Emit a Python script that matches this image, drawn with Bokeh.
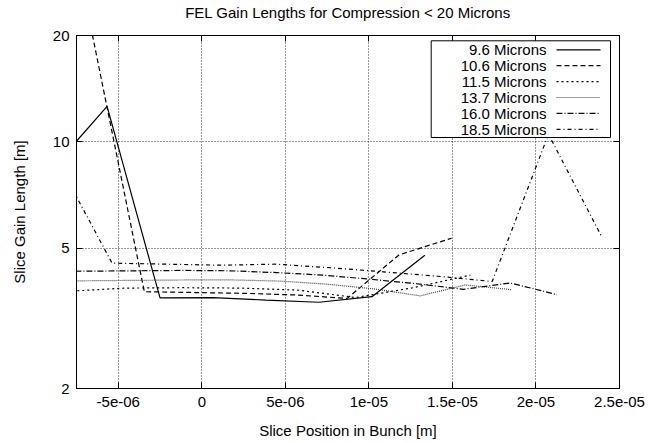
import math
from bokeh.plotting import figure
from bokeh.models import Range1d, FixedTicker, LinearAxis, LogAxis, Label, Arrow, BoxAnnotation
from bokeh.embed import file_html
from bokeh.resources import INLINE

# ---------------- data ----------------
x_96 = [-8.84e-6, -5.67e-6, -2.50e-6, 0.67e-6, 3.84e-6, 7.01e-6, 10.18e-6, 13.35e-6]
g_96 = [8.5, 12.6, 3.61, 3.62, 3.56, 3.51, 3.64, 4.77]

x_106 = [-6.55e-6, -3.44e-6, -0.39e-6, 2.64e-6, 5.67e-6, 8.70e-6, 11.8e-6, 14.95e-6]
g_106 = [20.1, 3.76, 3.74, 3.72, 3.68, 3.60, 4.78, 5.33]

x_115 = [-8.05e-6, -4.6e-6, -1.15e-6, 2.3e-6, 5.75e-6, 9.2e-6, 12.65e-6, 16.07e-6]
g_115 = [3.77, 3.85, 3.86, 3.85, 3.80, 3.62, 3.86, 4.19]

x_137 = [-9.3e-6, -6.5e-6, -3.7e-6, -0.9e-6, 1.9e-6, 4.7e-6, 7.5e-6, 10.3e-6, 13.07e-6, 15.77e-6, 18.57e-6]
g_137 = [4.03, 4.04, 4.05, 4.06, 4.06, 4.03, 3.95, 3.83, 3.66, 3.93, 3.81]

x_160 = [-9.54e-6, -6.74e-6, -3.94e-6, -1.14e-6, 1.66e-6, 4.46e-6, 7.26e-6, 10.06e-6, 12.86e-6, 15.66e-6, 18.46e-6, 21.26e-6]
g_160 = [4.29, 4.30, 4.31, 4.32, 4.31, 4.26, 4.19, 4.08, 3.96, 3.82, 3.98, 3.69]

x_185 = [-8.62e-6, -5.37e-6, -2.12e-6, 1.13e-6, 4.38e-6, 7.63e-6, 10.88e-6, 14.13e-6, 17.38e-6, 20.75e-6, 23.9e-6]
g_185 = [8.77, 4.53, 4.50, 4.47, 4.50, 4.40, 4.28, 4.16, 4.02, 10.5, 5.42]

series_labels = ["9.6 Microns", "10.6 Microns", "11.5 Microns", "13.7 Microns", "16.0 Microns", "18.5 Microns"]

x_ticks = [-5e-06, 0.0, 5e-06, 1e-05, 1.5e-05, 2e-05, 2.5e-05]
x_tick_labels = ["-5e-06", "0", "5e-06", "1e-05", "1.5e-05", "2e-05", "2.5e-05"]
y_ticks = [2, 5, 10, 20]
y_tick_labels = ["2", "5", "10", "20"]

title_text = "FEL Gain Lengths for Compression < 20 Microns"

# ---------------- styling ----------------
FONT = "Liberation Sans"
FS = "15px"
X0, X1 = -7.5e-6, 2.5e-5
Y0, Y1 = 2, 20
FL, FT, FW, FH = 76, 34.7, 543, 353

dashes = ["solid", "5 3", "2 3", "1 1", "6 2 1 2", "4 3 1 3"]
colors = ["black", "black", "black", "#444444", "black", "black"]

p = figure(width=662, height=443, x_range=Range1d(X0, X1), y_range=Range1d(Y0, Y1),
           y_axis_type="log", output_backend="svg", toolbar_location=None,
           min_border_left=FL, min_border_right=662 - FL - FW, min_border_top=35,
           min_border_bottom=55)

p.outline_line_color = "black"
p.outline_line_width = 1
p.background_fill_color = "white"
p.border_fill_color = "white"

for ax in [p.xaxis[0], p.yaxis[0]]:
    ax.major_tick_in = 6
    ax.major_tick_out = 0
    ax.minor_tick_line_color = None
    ax.axis_line_color = "black"
    ax.major_tick_line_color = "black"
    ax.major_label_text_font = FONT
    ax.major_label_text_font_size = FS
    ax.major_label_text_color = "black"
    ax.axis_label_text_font = FONT
    ax.axis_label_text_font_size = FS
    ax.axis_label_text_font_style = "normal"
    ax.axis_label_text_color = "black"

p.xaxis.ticker = FixedTicker(ticks=x_ticks)
p.xaxis.major_label_overrides = dict(zip(x_ticks, x_tick_labels))
p.xaxis.axis_label = "Slice Position in Bunch [m]"
p.xaxis.major_label_standoff = 8
p.xaxis.axis_label_standoff = 12

p.yaxis.ticker = FixedTicker(ticks=y_ticks)
p.yaxis.major_label_overrides = dict(zip(y_ticks, y_tick_labels))
p.yaxis.axis_label = "Slice Gain Length [m]"
p.yaxis.major_label_standoff = 7
p.yaxis.axis_label_standoff = 22

right_ax = LogAxis(ticker=FixedTicker(ticks=y_ticks), major_tick_in=6, major_tick_out=0,
                   minor_tick_line_color=None, major_label_overrides={t: "" for t in y_ticks},
                   major_label_text_font_size="1px", major_label_standoff=0,
                   major_tick_line_color="black")
# top axis: mirrored ticks, and carries the chart title as its label
top_ax = LinearAxis(ticker=FixedTicker(ticks=x_ticks), major_tick_in=6, major_tick_out=0,
                    minor_tick_line_color=None, major_label_overrides={t: "" for t in x_ticks},
                    major_label_text_font_size="1px", major_label_standoff=0,
                    major_tick_line_color="black", axis_label=title_text,
                    axis_label_text_font=FONT, axis_label_text_font_size=FS,
                    axis_label_text_font_style="normal", axis_label_text_color="black",
                    axis_label_standoff=15)
p.add_layout(right_ax, "right")
p.add_layout(top_ax, "above")

p.grid.grid_line_color = "black"
p.grid.grid_line_alpha = 0.8
p.grid.grid_line_dash = "1 2"
p.grid.grid_line_width = 1

all_x = [x_96, x_106, x_115, x_137, x_160, x_185]
all_g = [g_96, g_106, g_115, g_137, g_160, g_185]
for xs, gs, d, c in zip(all_x, all_g, dashes, colors):
    p.line(xs, gs, line_color=c, line_width=1.2, line_dash=d)

# ---------------- legend placed like gnuplot ----------------
def px_to_x(px):
    return X0 + (px - FL) / FW * (X1 - X0)

def py_to_y(py):
    ly = math.log10(Y1) - (py - FT) / FH * (math.log10(Y1) - math.log10(Y0))
    return 10 ** ly

box = BoxAnnotation(left=px_to_x(430.7), right=px_to_x(610), top=py_to_y(40), bottom=py_to_y(136.7),
                    fill_color="white", fill_alpha=1.0, line_color="black", line_width=1, line_alpha=1.0)
p.add_layout(box)

for i, (lab, d, c) in enumerate(zip(series_labels, dashes, colors)):
    row = 49 + i * 15.9
    yy = py_to_y(row)
    p.add_layout(Label(x=px_to_x(546), y=yy, text=lab, text_align="right", text_baseline="middle",
                       text_font=FONT, text_font_size=FS, text_color="black"))
    p.add_layout(Arrow(x_start=px_to_x(556), y_start=yy, x_end=px_to_x(600), y_end=yy,
                       start=None, end=None, line_color=c, line_width=1.2, line_dash=d))

open("out.html", "w").write(file_html(p, INLINE))
